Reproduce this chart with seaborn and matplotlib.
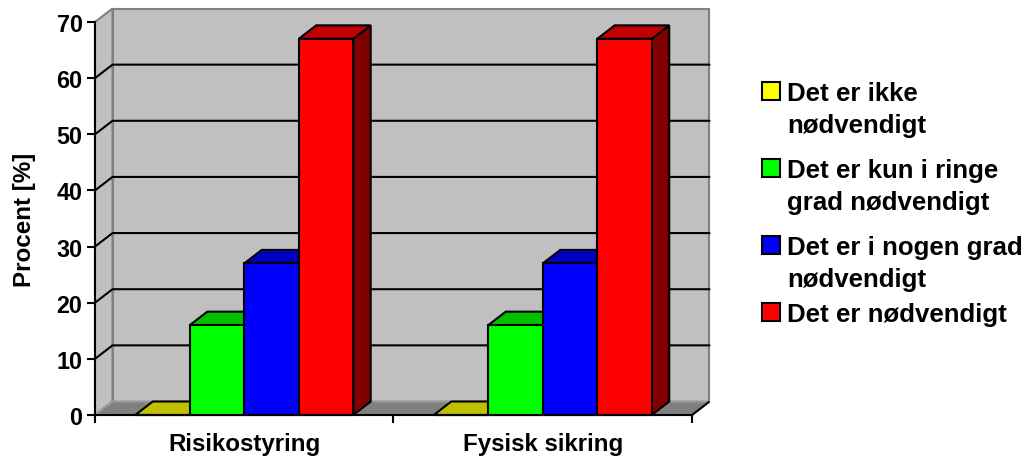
import matplotlib
matplotlib.use("Agg")
import matplotlib.pyplot as plt
from matplotlib.patches import Polygon, Rectangle
import pandas as pd
import seaborn as sns

# ---- data ----
omraader = ["Risikostyring", "Fysisk sikring"]
svar = [
    "Det er ikke\nnødvendigt",
    "Det er kun i ringe\ngrad nødvendigt",
    "Det er i nogen grad\nnødvendigt",
    "Det er nødvendigt",
]
risikostyring = [0, 16, 27, 67]
fysisk_sikring = [0, 16, 27, 67]
y_ticks = [0, 10, 20, 30, 40, 50, 60, 70]

# ---- styles ----
front_colors = ["#FFFF00", "#00FF00", "#0000FF", "#FF0000"]
top_colors = ["#C0C000", "#00C000", "#0000C0", "#C00000"]
side_colors = ["#808000", "#008000", "#000080", "#800000"]
wall_color = "#C0C0C0"
floor_color = "#808080"
edge_gray = "#808080"

sns.set_style("white")
plt.rcParams["font.family"] = ["Liberation Sans", "DejaVu Sans"]
plt.rcParams["font.weight"] = "bold"
plt.rcParams["axes.labelweight"] = "bold"
for key in ("text.color", "axes.labelcolor", "xtick.color", "ytick.color"):
    plt.rcParams[key] = "black"

df = pd.DataFrame({
    "Område": [o for o in omraader for _ in svar],
    "Svar": svar * len(omraader),
    "Procent": risikostyring + fysisk_sikring,
})

W, H, DPI = 1033, 460, 100
fig = plt.figure(figsize=(W / DPI, H / DPI), dpi=DPI)
ax_left, ax_right, ax_bottom, ax_top = 95, 692, 416, 23
ax = fig.add_axes([ax_left / W, 1 - ax_bottom / H,
                   (ax_right - ax_left) / W, (ax_bottom - ax_top) / H])
ax.set_facecolor("none")

sns.barplot(data=df, x="Område", y="Procent", hue="Svar", hue_order=svar,
            order=omraader, palette=front_colors, saturation=1, width=0.73,
            edgecolor="black", linewidth=1.5, legend=False, ax=ax)

xmin, xmax = -0.5, len(omraader) - 0.5
ymin, ymax = y_ticks[0], y_ticks[-1]
ax.set_xlim(xmin, xmax)
ax.set_ylim(ymin, ymax)

# depth of the 3-D box, in data units (from a pixel offset)
depth_px = (17.5, 13.5)
px_per_x = (ax_right - ax_left) / (xmax - xmin)
px_per_y = (ax_bottom - ax_top) / (ymax - ymin)
dx = depth_px[0] / px_per_x
dy = depth_px[1] / px_per_y

# back wall, left wall and floor
ax.add_patch(Polygon([(xmin + dx, ymin + dy), (xmax + dx, ymin + dy),
                      (xmax + dx, ymax + dy), (xmin + dx, ymax + dy)],
                     closed=True, fc=wall_color, ec=edge_gray, lw=1.5,
                     zorder=0.5, clip_on=False))
ax.add_patch(Polygon([(xmin, ymin), (xmin + dx, ymin + dy),
                      (xmin + dx, ymax + dy), (xmin, ymax)],
                     closed=True, fc=wall_color, ec=edge_gray, lw=1.5,
                     zorder=0.55, clip_on=False))
ax.add_patch(Polygon([(xmin, ymin), (xmax, ymin),
                      (xmax + dx, ymin + dy), (xmin + dx, ymin + dy)],
                     closed=True, fc=floor_color, ec="#9a9a9a", lw=1.5,
                     zorder=0.6, clip_on=False))
ax.plot([xmax, xmax + dx], [ymin, ymin + dy], color="black", lw=1.5,
        zorder=0.65, clip_on=False, solid_capstyle="butt")

# gridlines running across the left and back walls
for v in y_ticks[1:-1]:
    ax.plot([xmin, xmin + dx, xmax + dx], [v, v + dy, v + dy],
            color="black", lw=1.5, zorder=0.8, clip_on=False)

# give each bar its top and right side, painting from left to right
bars = []
for hi, cont in enumerate(ax.containers):
    for p in cont.patches:
        bars.append((p.get_x(), hi, p))
bars.sort(key=lambda b: b[0])
for k, (_, hi, p) in enumerate(bars):
    x0 = p.get_x()
    x1 = x0 + p.get_width()
    h = p.get_height()
    z = 3 + 0.01 * k
    ax.add_patch(Polygon([(x1, 0), (x1 + dx, dy), (x1 + dx, h + dy), (x1, h)],
                         closed=True, fc=side_colors[hi], ec="black", lw=1.5,
                         zorder=z, clip_on=False))
    ax.add_patch(Polygon([(x0, h), (x1, h), (x1 + dx, h + dy), (x0 + dx, h + dy)],
                         closed=True, fc=top_colors[hi], ec="black", lw=1.5,
                         zorder=z + 0.002, clip_on=False))
    p.set_zorder(z + 0.005)
    p.set_clip_on(False)

# axes, ticks and labels
for s in ("top", "right"):
    ax.spines[s].set_visible(False)
for s in ("left", "bottom"):
    ax.spines[s].set_linewidth(1.5)
    ax.spines[s].set_color("black")
    ax.spines[s].set_zorder(5)
ax.spines["left"].set_bounds(ymin, ymax)
ax.spines["bottom"].set_bounds(xmin, xmax)

ax.set_yticks(y_ticks)
ax.set_yticklabels([str(t) for t in y_ticks])
ax.tick_params(axis="y", which="major", length=6, width=1.5, pad=3,
               labelsize=16.8, color="black", left=True, direction="out")

ax.set_xticks([xmin + i for i in range(len(omraader) + 1)])
ax.set_xticklabels([])
ax.set_xticks(range(len(omraader)), minor=True)
ax.set_xticklabels(omraader, minor=True)
ax.tick_params(axis="x", which="major", length=5.5, width=1.5, bottom=True,
               color="black", direction="out")
ax.tick_params(axis="x", which="minor", length=0, pad=12, labelsize=17.4)

ax.set_xlabel("")
ax.set_ylabel("Procent [%]", fontsize=17.4, fontweight="bold")
ax.yaxis.set_label_coords(-0.099, 0.5)

# legend on the right
box_x, text_x, box_size = 762, 787, 18
baselines = [101, 178, 255, 322]
for lbl, col, base in zip(svar, front_colors, baselines):
    fig.patches.append(Rectangle((box_x / W, 1 - base / H), box_size / W,
                                 box_size / H, transform=fig.transFigure,
                                 fc=col, ec="black", lw=1.5))
    fig.text(text_x / W, 1 - (base - 19) / H, lbl, ha="left", va="top",
             fontsize=18.6, fontweight="bold", linespacing=1.41)

fig.savefig("out.png", dpi=DPI)
